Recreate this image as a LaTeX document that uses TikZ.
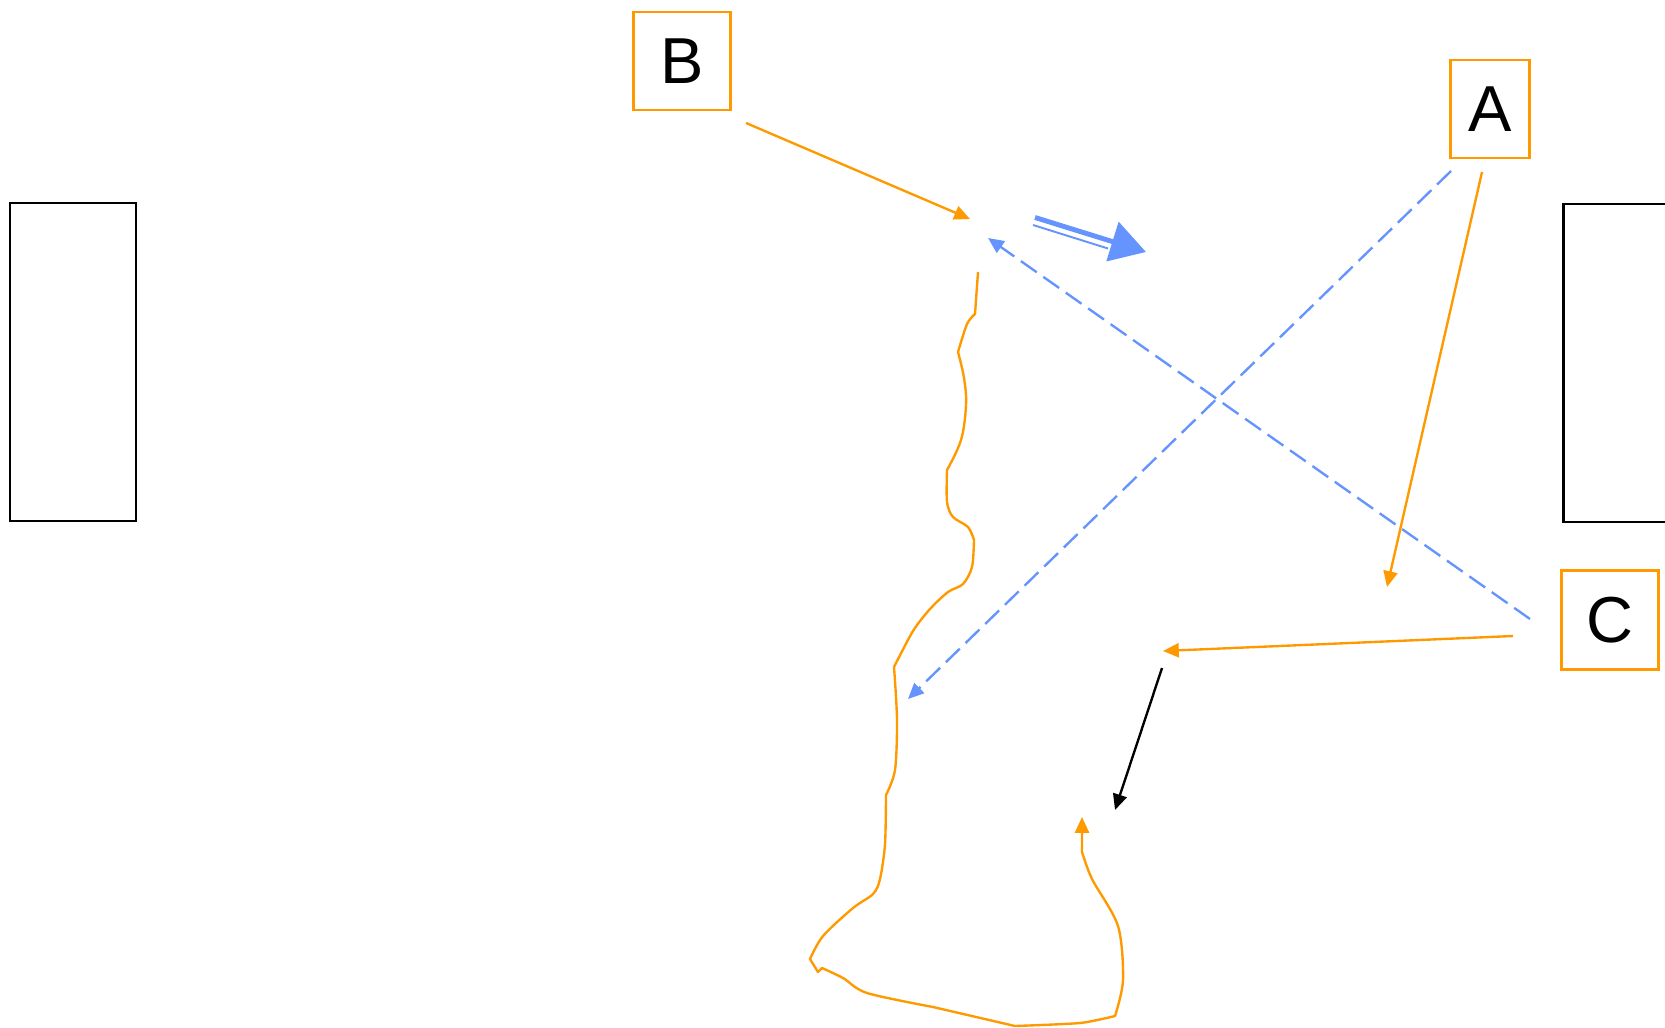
\documentclass[tikz,border=0pt]{standalone}
\usepackage{fontspec}
\setmainfont{Liberation Sans}
\usepackage{xcolor}
\usepackage{tikz}
\usetikzlibrary{arrows.meta,positioning,calc}
\definecolor{drawOrange}{HTML}{FF9900}
\definecolor{drawBlue}{HTML}{6694FF}

\begin{document}
\begin{tikzpicture}[
    x=0.02cm, y=-0.02cm,
    >={Triangle[length=9pt,width=8pt]},
    letterbox/.style={draw=drawOrange, line width=1.3pt, fill=white, inner sep=0pt, font=\fontsize{37}{44}\selectfont, minimum height=1.96cm},
    wall/.style={draw=black, line width=1.5pt, inner sep=0pt, minimum width=2.52cm, minimum height=6.36cm},
    flow/.style={draw=drawOrange, line width=1.35pt, ->},
    hint/.style={draw=drawBlue, line width=1.35pt, dash pattern=on 11pt off 4.6pt, ->},
    pushtop/.style={draw=drawBlue, fill=drawBlue, line width=2.8pt, -{Triangle[length=20pt,width=23pt]}},
    pushlow/.style={draw=drawBlue, line width=1.1pt}
]
\useasboundingbox (0,0) rectangle (1665,1027);

\node[wall] (leftwall) at (73,362) {};
\node[wall, minimum width=2.74cm] (rightwall) at (1632,363) {};

\node[letterbox, minimum width=1.94cm] (B) at (682,61) {B};
\node[letterbox, minimum width=1.58cm] (A) at (1490,109) {A};
\node[letterbox, minimum width=1.94cm, minimum height=1.98cm] (C) at (1610,620) {C};

\coordinate (bStart) at (746,123);
\coordinate (bEnd) at (970,219);
\coordinate (pushStart) at (1035,217.5);
\coordinate (pushEnd) at (1146,252);
\coordinate (pushLowStart) at (1033,225);
\coordinate (pushLowEnd) at (1108,248.5);
\coordinate (cHintStart) at (1530,619);
\coordinate (cHintEnd) at (988,238);
\coordinate (aHintStart) at (1451,171);
\coordinate (aHintEnd) at (908,699);
\coordinate (aStart) at (1482,172);
\coordinate (aEnd) at (1387,587);
\coordinate (cStart) at (1513,636);
\coordinate (cEnd) at (1163,651);
\coordinate (dropStart) at (1162,668);
\coordinate (dropEnd) at (1115,810);
\coordinate (loopStart) at (978,272);
\coordinate (loopEnd) at (1082,817);

\draw[flow] (bStart) -- (bEnd);
\draw[pushtop] (pushStart) -- (pushEnd);
\draw[pushlow] (pushLowStart) -- (pushLowEnd);
\draw[hint] (cHintStart) -- (cHintEnd);
\draw[hint] (aHintStart) -- (aHintEnd);
\draw[flow] (aStart) -- (aEnd);
\draw[flow] (cStart) -- (cEnd);
\draw[->, line width=1.35pt] (dropStart) -- (dropEnd);
\draw[flow, line join=round]
    plot[smooth, tension=0.5] coordinates {(loopStart) (976,300) (975,314)}
    -- plot[smooth, tension=0.5] coordinates {(975,314) (967,324) (958,352)}
    -- plot[smooth, tension=0.6] coordinates {(958,352) (964,378) (966,405) (961,440) (947,470)}
    -- plot[smooth, tension=0.5] coordinates {(947,470) (947,502) (953,517) (968,527) (974,540)}
    -- plot[smooth, tension=0.5] coordinates {(974,540) (972,567) (963,584) (948,592) (930,609) (913,631) (894,667)}
    -- plot[smooth, tension=0.5] coordinates {(894,667) (897,720) (895,770) (886,795)}
    -- plot[smooth, tension=0.5] coordinates {(886,795) (885,844) (880,879) (873,894) (853,908) (823,936) (810,959)}
    -- (818,972) -- (822,968)
    -- plot[smooth, tension=0.5] coordinates {(822,968) (843,978) (867,993) (933,1007)}
    -- (1015,1026)
    -- plot[smooth, tension=0.4] coordinates {(1015,1026) (1080,1023) (1115,1016)}
    -- plot[smooth, tension=0.5] coordinates {(1115,1016) (1123,980) (1118,926) (1092,879) (1082,852)}
    -- (1082,832) -- (loopEnd);
\end{tikzpicture}
\end{document}
